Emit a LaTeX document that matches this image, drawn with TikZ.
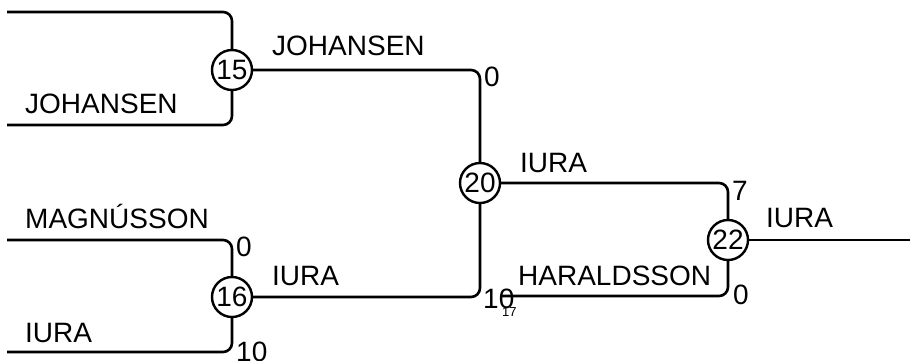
\documentclass[tikz,border=0pt]{standalone}
\usepackage{fontspec}
\setmainfont{Liberation Sans}
\begin{document}
\begin{tikzpicture}[x=1pt,y=-1pt,
  seed/.style={circle,draw,line width=2.4pt,minimum size=40pt,inner sep=0pt,font=\fontsize{28}{28}\selectfont,fill=white},
  wire/.style={line width=2.6pt,rounded corners=9pt},
  lbl/.style={anchor=base west,inner sep=0pt,font=\fontsize{28}{28}\selectfont},
  tiny/.style={anchor=base west,inner sep=0pt,font=\fontsize{13}{13}\selectfont}]
\useasboundingbox (0,0) rectangle (910,360);
% rounds
\node[seed] (c15) at (232,70) {15};
\node[seed] (c16) at (232,297) {16};
\node[seed] (c20) at (480,183) {20};
\node[seed] (c22) at (728,240) {22};
% free ends
\coordinate (a1) at (7,12);
\coordinate (a2) at (7,125);
\coordinate (b1) at (7,240);
\coordinate (b2) at (7,352);
\coordinate (h17) at (502,296);
\coordinate (out) at (910,240);
% connectors
\draw[wire] (a1) -| (c15);
\draw[wire] (a2) -| (c15);
\draw[wire] (b1) -| (c16);
\draw[wire] (b2) -| (c16);
\draw[wire] (c15) -| (c20);
\draw[wire] (c16) -| (c20);
\draw[wire] (c20) -| (c22);
\draw[wire] (h17) -| (c22);
\draw[wire] (c22) -- (out);
% labels
\node[lbl] (t1) at (25,113) {JOHANSEN};
\node[lbl] (t2) at (272,55) {JOHANSEN};
\node[lbl] (t3) at (484,86) {0};
\node[lbl] (t4) at (25,228) {MAGNÚSSON};
\node[lbl] (t5) at (236,256) {0};
\node[lbl] (t6) at (272,285) {IURA};
\node[lbl] (t7) at (25,342) {IURA};
\node[lbl] (t8) at (236,361) {10};
\node[lbl] (t9) at (483,308) {10};
\node[tiny] (t10) at (502,316) {17};
\node[lbl] (t11) at (520,172) {IURA};
\node[lbl] (t12) at (518,285) {HARALDSSON};
\node[lbl] (t13) at (732,200) {7};
\node[lbl] (t14) at (733,304) {0};
\node[lbl] (t15) at (766,227) {IURA};
\end{tikzpicture}
\end{document}
